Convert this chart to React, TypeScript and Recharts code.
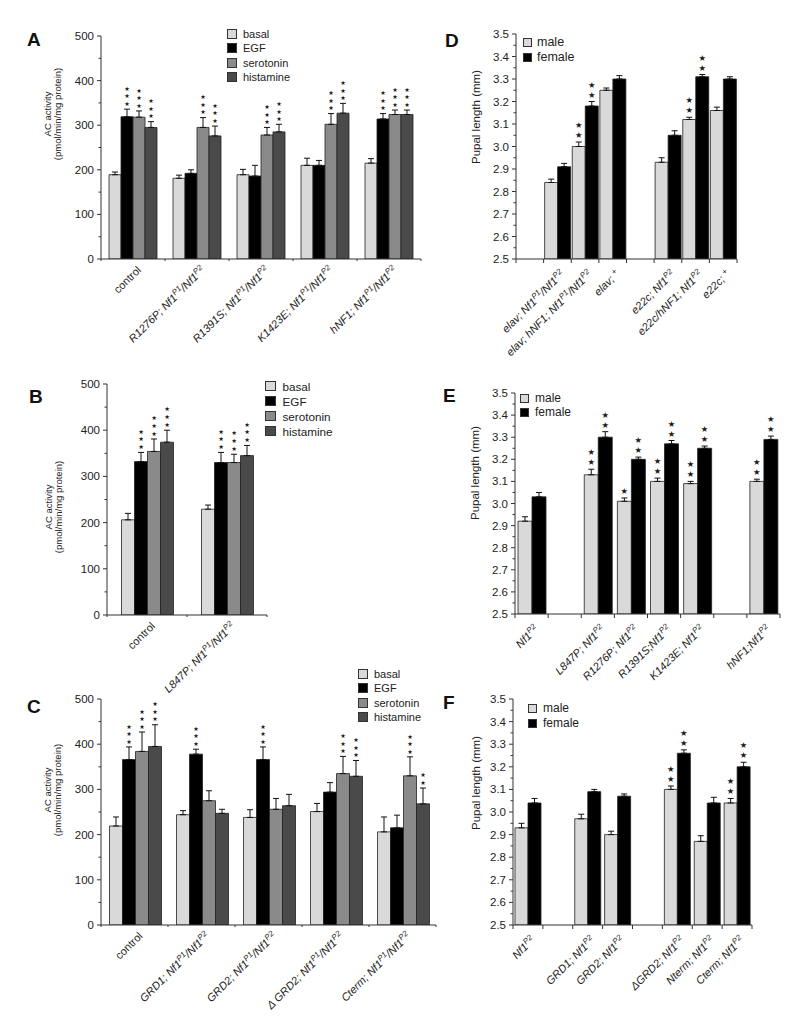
import { BarChart, Bar, XAxis, YAxis, ErrorBar, LabelList, Legend } from 'recharts';

const FONT = '"Liberation Sans", Arial, Helvetica, sans-serif';
const STAR_FONT = '"DejaVu Sans", sans-serif';

// shared series
const acNames = ['basal', 'EGF', 'serotonin', 'histamine'];
const acColors = ['#d9d9d9', '#000000', '#8a8a8a', '#4a4a4a'];
const sexNames = ['male', 'female'];
const sexColors = ['#d9d9d9', '#000000'];

const acTicks = [0, 100, 200, 300, 400, 500];
const acMinor = [50, 150, 250, 350, 450];
const pupalTicks = [2.5, 2.6, 2.7, 2.8, 2.9, 3.0, 3.1, 3.2, 3.3, 3.4, 3.5];
const pupalMinor = [2.55, 2.65, 2.75, 2.85, 2.95, 3.05, 3.15, 3.25, 3.35, 3.45];

// A
const groupsA = ['control', 'R1276P; Nf1^P1/Nf1^P2', 'R1391S; Nf1^P1/Nf1^P2', 'K1423E; Nf1^P1/Nf1^P2', 'hNF1; Nf1^P1/Nf1^P2'];
const basalA = [189, 181, 189, 210, 215];
const egfA = [319, 192, 186, 210, 314];
const seroA = [318, 295, 278, 302, 324];
const histA = [295, 276, 285, 327, 324];
const basalErrA = [6, 7, 12, 16, 10];
const egfErrA = [17, 8, 24, 11, 12];
const seroErrA = [14, 22, 17, 24, 10];
const histErrA = [13, 22, 17, 22, 10];
const starsA = [[0, 0, 0, 0, 0], [3, 0, 0, 0, 3], [3, 3, 3, 3, 3], [3, 3, 3, 3, 3]];

// B
const groupsB = ['control', 'L847P; Nf1^P1/Nf1^P2'];
const basalB = [206, 229];
const egfB = [332, 330];
const seroB = [354, 330];
const histB = [374, 345];
const basalErrB = [14, 9];
const egfErrB = [20, 22];
const seroErrB = [27, 18];
const histErrB = [26, 22];
const starsB = [[0, 0], [3, 3], [3, 3], [3, 3]];

// C
const groupsC = ['control', 'GRD1; Nf1^P1/Nf1^P2', 'GRD2; Nf1^P1/Nf1^P2', 'Δ GRD2; Nf1^P1/Nf1^P2', 'Cterm; Nf1^P1/Nf1^P2'];
const basalC = [219, 244, 238, 251, 206];
const egfC = [366, 378, 366, 294, 215];
const seroC = [384, 275, 256, 335, 330];
const histC = [395, 247, 264, 329, 268];
const basalErrC = [20, 9, 17, 18, 33];
const egfErrC = [28, 11, 28, 21, 28];
const seroErrC = [43, 22, 24, 38, 42];
const histErrC = [48, 9, 25, 35, 35];
const starsC = [[0, 0, 0, 0, 0], [3, 3, 3, 0, 0], [3, 0, 0, 3, 3], [3, 0, 0, 3, 2]];

// D
const groupsD = ['', 'elav; Nf1^P1/Nf1^P2', 'elav; hNF1; Nf1^P1/Nf1^P2', 'elav; ^+', ' ', 'e22c; Nf1^P2', 'e22c/hNF1; Nf1^P2', 'e22c; ^+'];
const maleD = [null, 2.84, 3.0, 3.25, null, 2.93, 3.12, 3.16];
const femaleD = [null, 2.91, 3.18, 3.3, null, 3.05, 3.31, 3.3];
const maleErrD = [null, 0.015, 0.02, 0.01, null, 0.02, 0.01, 0.015];
const femaleErrD = [null, 0.015, 0.02, 0.015, null, 0.02, 0.01, 0.01];
const starsD = [[0, 0, 2, 0, 0, 0, 2, 0], [0, 0, 2, 0, 0, 0, 2, 0]];

// E
const groupsE = ['Nf1^P2', '', 'L847P; Nf1^P2', 'R1276P; Nf1^P2', 'R1391S;Nf1^P2', 'K1423E; Nf1^P2', ' ', 'hNF1;Nf1^P2'];
const maleE = [2.92, null, 3.13, 3.01, 3.1, 3.09, null, 3.1];
const femaleE = [3.03, null, 3.3, 3.2, 3.27, 3.25, null, 3.29];
const maleErrE = [0.02, null, 0.025, 0.015, 0.015, 0.01, null, 0.01];
const femaleErrE = [0.02, null, 0.025, 0.01, 0.015, 0.01, null, 0.015];
const starsE = [[0, 0, 2, 1, 2, 2, 0, 2], [0, 0, 2, 2, 2, 2, 0, 2]];

// F
const groupsF = ['Nf1^P2', '', 'GRD1; Nf1^P2', 'GRD2; Nf1^P2', ' ', 'ΔGRD2; Nf1^P2', 'Nterm; Nf1^P2', 'Cterm; Nf1^P2'];
const maleF = [2.93, null, 2.97, 2.9, null, 3.1, 2.87, 3.04];
const femaleF = [3.04, null, 3.09, 3.07, null, 3.26, 3.04, 3.2];
const maleErrF = [0.02, null, 0.02, 0.015, null, 0.015, 0.025, 0.02];
const femaleErrF = [0.02, null, 0.01, 0.01, null, 0.015, 0.025, 0.02];
const starsF = [[0, 0, 0, 0, 0, 2, 0, 2], [0, 0, 0, 0, 0, 2, 0, 2]];

type Num = number | null;
type Cfg = {
  letter: string;
  letterPos: [number, number];
  plot: [number, number, number, number];
  right: number;
  xh: number;
  domain: [number, number];
  majors: number[];
  minors: number[];
  digits: number;
  groups: string[];
  names: string[];
  colors: string[];
  values: Num[][];
  errs: Num[][];
  stars: number[][];
  catGap: number;
  legend: { x: number; y: number; row: number; box: number; fs: number; gap: number };
  title: { lines: string[]; x: number; y: number; fs: number; lh: number };
  tickOff: [number, number];
  tickFs: number;
  xTickLen: number;
  star: { fs: number; gap: number; lift: number };
};

const panels: Cfg[] = [
  {
    letter: 'A', letterPos: [27, 32], plot: [101, 36, 421, 259], right: 20, xh: 100,
    domain: [0, 500], majors: acTicks, minors: acMinor, digits: 0,
    groups: groupsA, names: acNames, colors: acColors,
    values: [basalA, egfA, seroA, histA], errs: [basalErrA, egfErrA, seroErrA, histErrA], stars: starsA,
    catGap: 8, legend: { x: 227, y: 27, row: 14.3, box: 10, fs: 11, gap: 6 },
    title: { lines: ['AC activity', '(pmol/min/mg protein)'], x: 51, y: 114, fs: 9.5, lh: 10 },
    tickOff: [6, 9], tickFs: 11, xTickLen: 2, star: { fs: 6.2, gap: 7.5, lift: 5.5 },
  },
  {
    letter: 'B', letterPos: [29, 389], plot: [107, 384, 267, 615], right: 110, xh: 100,
    domain: [0, 500], majors: acTicks, minors: acMinor, digits: 0,
    groups: groupsB, names: acNames, colors: acColors,
    values: [basalB, egfB, seroB, histB], errs: [basalErrB, egfErrB, seroErrB, histErrB], stars: starsB,
    catGap: 14.5, legend: { x: 265, y: 378.5, row: 15, box: 10.5, fs: 11.7, gap: 7 },
    title: { lines: ['AC activity', '(pmol/min/mg protein)'], x: 52, y: 507, fs: 9.5, lh: 10 },
    tickOff: [6, 9], tickFs: 11, xTickLen: 2, star: { fs: 6.4, gap: 7.8, lift: 5.5 },
  },
  {
    letter: 'C', letterPos: [27, 699], plot: [101, 699, 436, 925], right: 20, xh: 95,
    domain: [0, 500], majors: acTicks, minors: acMinor, digits: 0,
    groups: groupsC, names: acNames, colors: acColors,
    values: [basalC, egfC, seroC, histC], errs: [basalErrC, egfErrC, seroErrC, histErrC], stars: starsC,
    catGap: 8.5, legend: { x: 358, y: 667, row: 14.3, box: 10, fs: 11, gap: 6 },
    title: { lines: ['AC activity', '(pmol/min/mg protein)'], x: 51, y: 790, fs: 9.5, lh: 10 },
    tickOff: [6, 9], tickFs: 11, xTickLen: 2, star: { fs: 6.2, gap: 7.5, lift: 5.5 },
  },
  {
    letter: 'D', letterPos: [445, 33], plot: [516, 34, 737, 259], right: 20, xh: 100,
    domain: [2.5, 3.5], majors: pupalTicks, minors: pupalMinor, digits: 1,
    groups: groupsD, names: sexNames, colors: sexColors,
    values: [maleD, femaleD], errs: [maleErrD, femaleErrD], stars: starsD,
    catGap: 1, legend: { x: 523, y: 34.5, row: 15, box: 9, fs: 12.5, gap: 5 },
    title: { lines: ['Pupal length (mm)'], x: 480, y: 117, fs: 11.5, lh: 0 },
    tickOff: [5, 13], tickFs: 11, xTickLen: 4, star: { fs: 8.4, gap: 10, lift: 7 },
  },
  {
    letter: 'E', letterPos: [443, 388], plot: [515, 393, 780, 614], right: 20, xh: 100,
    domain: [2.5, 3.5], majors: pupalTicks, minors: pupalMinor, digits: 1,
    groups: groupsE, names: sexNames, colors: sexColors,
    values: [maleE, femaleE], errs: [maleErrE, femaleErrE], stars: starsE,
    catGap: 3, legend: { x: 520, y: 391, row: 14, box: 9, fs: 12, gap: 6 },
    title: { lines: ['Pupal length (mm)'], x: 479, y: 473, fs: 11.5, lh: 0 },
    tickOff: [5, 13], tickFs: 11, xTickLen: 4, star: { fs: 8.4, gap: 10, lift: 7 },
  },
  {
    letter: 'F', letterPos: [443, 695], plot: [513, 699, 752, 925], right: 20, xh: 95,
    domain: [2.5, 3.5], majors: pupalTicks, minors: pupalMinor, digits: 1,
    groups: groupsF, names: sexNames, colors: sexColors,
    values: [maleF, femaleF], errs: [maleErrF, femaleErrF], stars: starsF,
    catGap: 2, legend: { x: 528, y: 700.5, row: 15, box: 9, fs: 12, gap: 6 },
    title: { lines: ['Pupal length (mm)'], x: 480, y: 783, fs: 11.5, lh: 0 },
    tickOff: [5, 13], tickFs: 11, xTickLen: 4, star: { fs: 8.4, gap: 10, lift: 7 },
  },
];

const MTOP = 40;
const MLEFT = 60;
const YW = 40;

// "Nf1^P1" -> Nf1 with superscript P1
function richText(s: string, fs: number) {
  const parts = s.split(/\^([A-Za-z0-9+]+)/);
  return parts.map((p, i) =>
    i % 2 === 1 ? (
      <tspan key={i} baselineShift="super" fontSize={fs * 0.72}>{p}</tspan>
    ) : (
      <tspan key={i}>{p}</tspan>
    )
  );
}

function makeXTick(band: number, last: number, off: [number, number], fs: number, len: number) {
  return function XTick(props: any) {
    const { x, y, payload, index } = props;
    const label = String(payload.value);
    return (
      <g>
        <line x1={x - band / 2} x2={x - band / 2} y1={y} y2={y + len} stroke="#333" />
        {index === last && <line x1={x + band / 2} x2={x + band / 2} y1={y} y2={y + len} stroke="#333" />}
        {label.trim() !== '' && (
          <text
            transform={`translate(${x + off[0]},${y + off[1]}) rotate(-45)`}
            textAnchor="end"
            dy="0.35em"
            fontSize={fs}
            fontFamily={FONT}
            fontStyle={label === 'control' ? 'normal' : 'italic'}
            fill="#222"
          >
            {richText(label, fs)}
          </text>
        )}
      </g>
    );
  };
}

function makeYTick(majors: number[], digits: number, fs: number) {
  return function YTick(props: any) {
    const { x, y, payload } = props;
    const v = Number(payload.value);
    const major = majors.some((m) => Math.abs(m - v) < 1e-6);
    return (
      <g>
        <line x1={x - (major ? 4 : 2.5)} x2={x} y1={y} y2={y} stroke="#333" />
        {major && (
          <text x={x - 7} y={y} dy="0.35em" textAnchor="end" fontSize={fs} fontFamily={FONT} fill="#222">
            {v.toFixed(digits)}
          </text>
        )}
      </g>
    );
  };
}

// significance stars stacked above the error bar cap
function makeStars(min: number, fs: number, gap: number, lift: number) {
  return function Stars(props: any) {
    const vb = props.viewBox && props.viewBox.width != null ? props.viewBox : props;
    const value = props.value;
    if (!value) return null;
    const [n, e, v] = String(value).split('|').map(Number);
    if (!n) return null;
    const h = Math.abs(vb.height);
    const top = Math.min(vb.y, vb.y + vb.height);
    const capY = top - (e * h) / (v - min);
    const cx = vb.x + vb.width / 2;
    return (
      <g>
        {Array.from({ length: n }, (_, k) => (
          <text
            key={k}
            x={cx}
            y={capY - lift - k * gap}
            dy="0.36em"
            textAnchor="middle"
            fontSize={fs}
            fontFamily={STAR_FONT}
            fill="#1a1a1a"
          >
            ★
          </text>
        ))}
      </g>
    );
  };
}

function YTitle({ lines, tx, ty, size, gap }: { lines: string[]; tx: number; ty: number; size: number; gap: number }) {
  return (
    <text transform={`translate(${tx},${ty}) rotate(-90)`} textAnchor="middle" fontSize={size} fontFamily={FONT} fill="#222">
      {lines.map((l, i) => (
        <tspan key={i} x={0} dy={i === 0 ? 0 : gap}>{l}</tspan>
      ))}
    </text>
  );
}

function LegendBox({ names, colors, row, box, fs, gap }: { names: string[]; colors: string[]; row: number; box: number; fs: number; gap: number }) {
  return (
    <div style={{ fontFamily: FONT, fontSize: fs, color: '#222', whiteSpace: 'nowrap' }}>
      {names.map((n, i) => (
        <div key={n} style={{ display: 'flex', alignItems: 'center', height: row }}>
          <span
            style={{
              width: box,
              height: box,
              background: colors[i],
              border: '1px solid #333',
              boxSizing: 'border-box',
              marginRight: gap,
              display: 'inline-block',
            }}
          />
          {n}
        </div>
      ))}
    </div>
  );
}

function Panel({ c }: { c: Cfg }) {
  const [x0, y0, x1, y1] = c.plot;
  const left = x0 - MLEFT - YW;
  const top = y0 - MTOP;
  const width = x1 - x0 + MLEFT + YW + c.right;
  const height = y1 - y0 + MTOP + c.xh;
  const band = (x1 - x0) / c.groups.length;
  const rows = c.groups.map((g, i) => {
    const row: Record<string, unknown> = { name: g };
    c.names.forEach((_, s) => {
      const v = c.values[s][i];
      const e = c.errs[s][i];
      row[`v${s}`] = v;
      row[`e${s}`] = e == null ? null : [0, e];
      row[`t${s}`] = v == null || !c.stars[s][i] ? '' : `${c.stars[s][i]}|${e ?? 0}|${v}`;
    });
    return row;
  });
  const ticks = [...c.majors, ...c.minors].sort((a, b) => a - b);
  const starFn = makeStars(c.domain[0], c.star.fs, c.star.gap, c.star.lift);

  return (
    <div style={{ position: 'absolute', left, top, width, height }}>
      <BarChart
        width={width}
        height={height}
        data={rows}
        margin={{ top: MTOP, left: MLEFT, right: c.right, bottom: 0 }}
        barGap={0}
        barCategoryGap={c.catGap}
      >
        <XAxis
          dataKey="name"
          height={c.xh}
          interval={0}
          tickSize={0}
          tickMargin={0}
          tickLine={false}
          axisLine={{ stroke: '#333' }}
          tick={makeXTick(band, c.groups.length - 1, c.tickOff, c.tickFs, c.xTickLen)}
        />
        <YAxis
          width={YW}
          type="number"
          domain={c.domain}
          allowDataOverflow
          ticks={ticks}
          interval={0}
          tickSize={0}
          tickMargin={0}
          tickLine={false}
          axisLine={{ stroke: '#333' }}
          tick={makeYTick(c.majors, c.digits, 11.5)}
          label={<YTitle lines={c.title.lines} tx={c.title.x - left} ty={c.title.y - top} size={c.title.fs} gap={c.title.lh} />}
        />
        {c.names.map((n, s) => (
          <Bar key={n} dataKey={`v${s}`} name={n} fill={c.colors[s]} stroke="#222" strokeWidth={0.8} isAnimationActive={false}>
            <ErrorBar dataKey={`e${s}`} width={3} stroke="#111" strokeWidth={1} direction="y" />
            <LabelList dataKey={`t${s}`} content={starFn} />
          </Bar>
        ))}
        <Legend
          layout="vertical"
          align="center"
          verticalAlign="middle"
          wrapperStyle={{ left: c.legend.x - left, top: c.legend.y - top, width: 'auto', height: 'auto' }}
          content={() => (
            <LegendBox names={c.names} colors={c.colors} row={c.legend.row} box={c.legend.box} fs={c.legend.fs} gap={c.legend.gap} />
          )}
        />
      </BarChart>
    </div>
  );
}

export default function App() {
  return (
    <div
      style={{
        position: 'absolute',
        left: 0,
        top: 0,
        width: 800,
        height: 1020,
        overflow: 'hidden',
        background: '#fff',
        fontFamily: FONT,
      }}
    >
      {panels.map((c) => (
        <Panel key={c.letter} c={c} />
      ))}
      {panels.map((c) => (
        <div
          key={`l${c.letter}`}
          style={{
            position: 'absolute',
            left: c.letterPos[0],
            top: c.letterPos[1] - 2.5,
            fontSize: 19,
            fontWeight: 'bold',
            lineHeight: 1,
            color: '#111',
          }}
        >
          {c.letter}
        </div>
      ))}
    </div>
  );
}
